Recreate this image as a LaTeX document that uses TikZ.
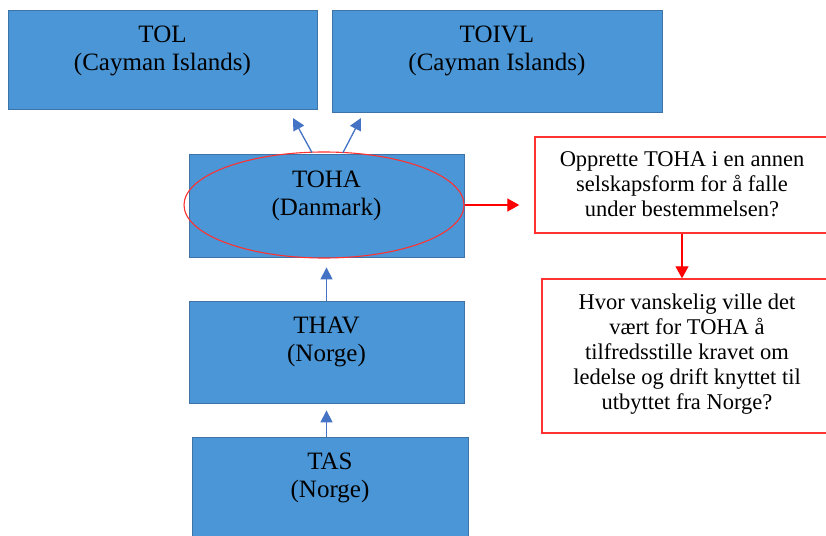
\documentclass[tikz,border=0pt]{standalone}
\usepackage{fontspec}
\setmainfont{Liberation Serif}
\usetikzlibrary{shapes.geometric,arrows.meta}
\definecolor{boxblue}{RGB}{74,150,214}
\definecolor{boxedge}{RGB}{62,115,168}
\definecolor{arrblue}{RGB}{68,114,196}
\definecolor{qred}{RGB}{255,50,50}
\tikzset{
  bluebox/.style={draw=boxedge, line width=0.8pt, fill=boxblue, rectangle, inner sep=0pt},
  redbox/.style={draw=qred, line width=1.4pt, fill=white, rectangle, inner sep=0pt},
  btxt/.style={anchor=north, inner sep=0pt, align=center, font=\rmfamily\fontsize{25}{28}\selectfont},
  rtxt/.style={anchor=north, inner sep=0pt, align=center, font=\rmfamily\fontsize{22.5}{25}\selectfont},
  barrow/.style={draw=arrblue, line width=1.3pt, -{Triangle[length=12pt,width=12pt]}},
  rarrow/.style={draw=red, line width=1.3pt, -{Triangle[length=12pt,width=13pt]}},
}
\begin{document}
\begin{tikzpicture}[x=1pt,y=-1pt]
\clip (0,0) rectangle (826,535);
\fill[white] (0,0) rectangle (826,535);
% blue boxes
\node[bluebox, minimum width=309pt, minimum height=99pt] (tol) at (162.5,59.5) {};
\node[bluebox, minimum width=330pt, minimum height=102pt] (toivl) at (497,61) {};
\node[bluebox, minimum width=275pt, minimum height=103pt] (toha) at (326.5,205.5) {};
\node[bluebox, minimum width=275pt, minimum height=102pt] (thav) at (326.5,352) {};
\node[bluebox, minimum width=276pt, minimum height=108pt] (tas) at (330,491) {};
% texts in blue boxes
\node[btxt] (toltxt) at ([yshift=-16.5pt]tol.north) {TOL\\(Cayman Islands)};
\node[btxt] (toivltxt) at ([yshift=-16.5pt]toivl.north) {TOIVL\\(Cayman Islands)};
\node[btxt] (tohatxt) at ([yshift=-17pt]toha.north) {TOHA\\(Danmark)};
\node[btxt] (thavtxt) at ([yshift=-16pt]thav.north) {THAV\\(Norge)};
\node[btxt] (tastxt) at ([yshift=-16.5pt]tas.north) {TAS\\(Norge)};
% ellipse
\node[draw=qred, line width=1.1pt, ellipse, minimum width=280pt, minimum height=106pt, inner sep=0pt] (ell) at (324,205) {};
% red boxes
\node[redbox, minimum width=294pt, minimum height=96pt] (red1) at (682,185) {};
\node[redbox, minimum width=290pt, minimum height=154pt] (red2) at (687,356) {};
\node[rtxt] (red1txt) at ([yshift=-15.5pt]red1.north) {Opprette TOHA i en annen\\selskapsform for å falle\\under bestemmelsen?};
\node[rtxt] (red2txt) at ([yshift=-15.5pt]red2.north) {Hvor vanskelig ville det\\vært for TOHA å\\tilfredsstille kravet om\\ledelse og drift knyttet til\\utbyttet fra Norge?};
% connectors
\coordinate (tip1) at (293,118);
\coordinate (tip2) at (361,118);
\draw[barrow] ([xshift=-14.5pt,yshift=1pt]toha.north) -- (tip1);
\draw[barrow] ([xshift=16.5pt,yshift=1pt]toha.north) -- (tip2);
\draw[barrow, shorten >=10pt] (thav.north) -- (toha.south);
\draw[barrow, shorten >=7pt] (tas.north -| thav.south) -- (thav.south);
\draw[rarrow, shorten >=15pt] (ell.east) -- (ell.east -| red1.west);
\draw[rarrow] (red1.south) -- (red1.south |- red2.north);
\end{tikzpicture}
\end{document}
